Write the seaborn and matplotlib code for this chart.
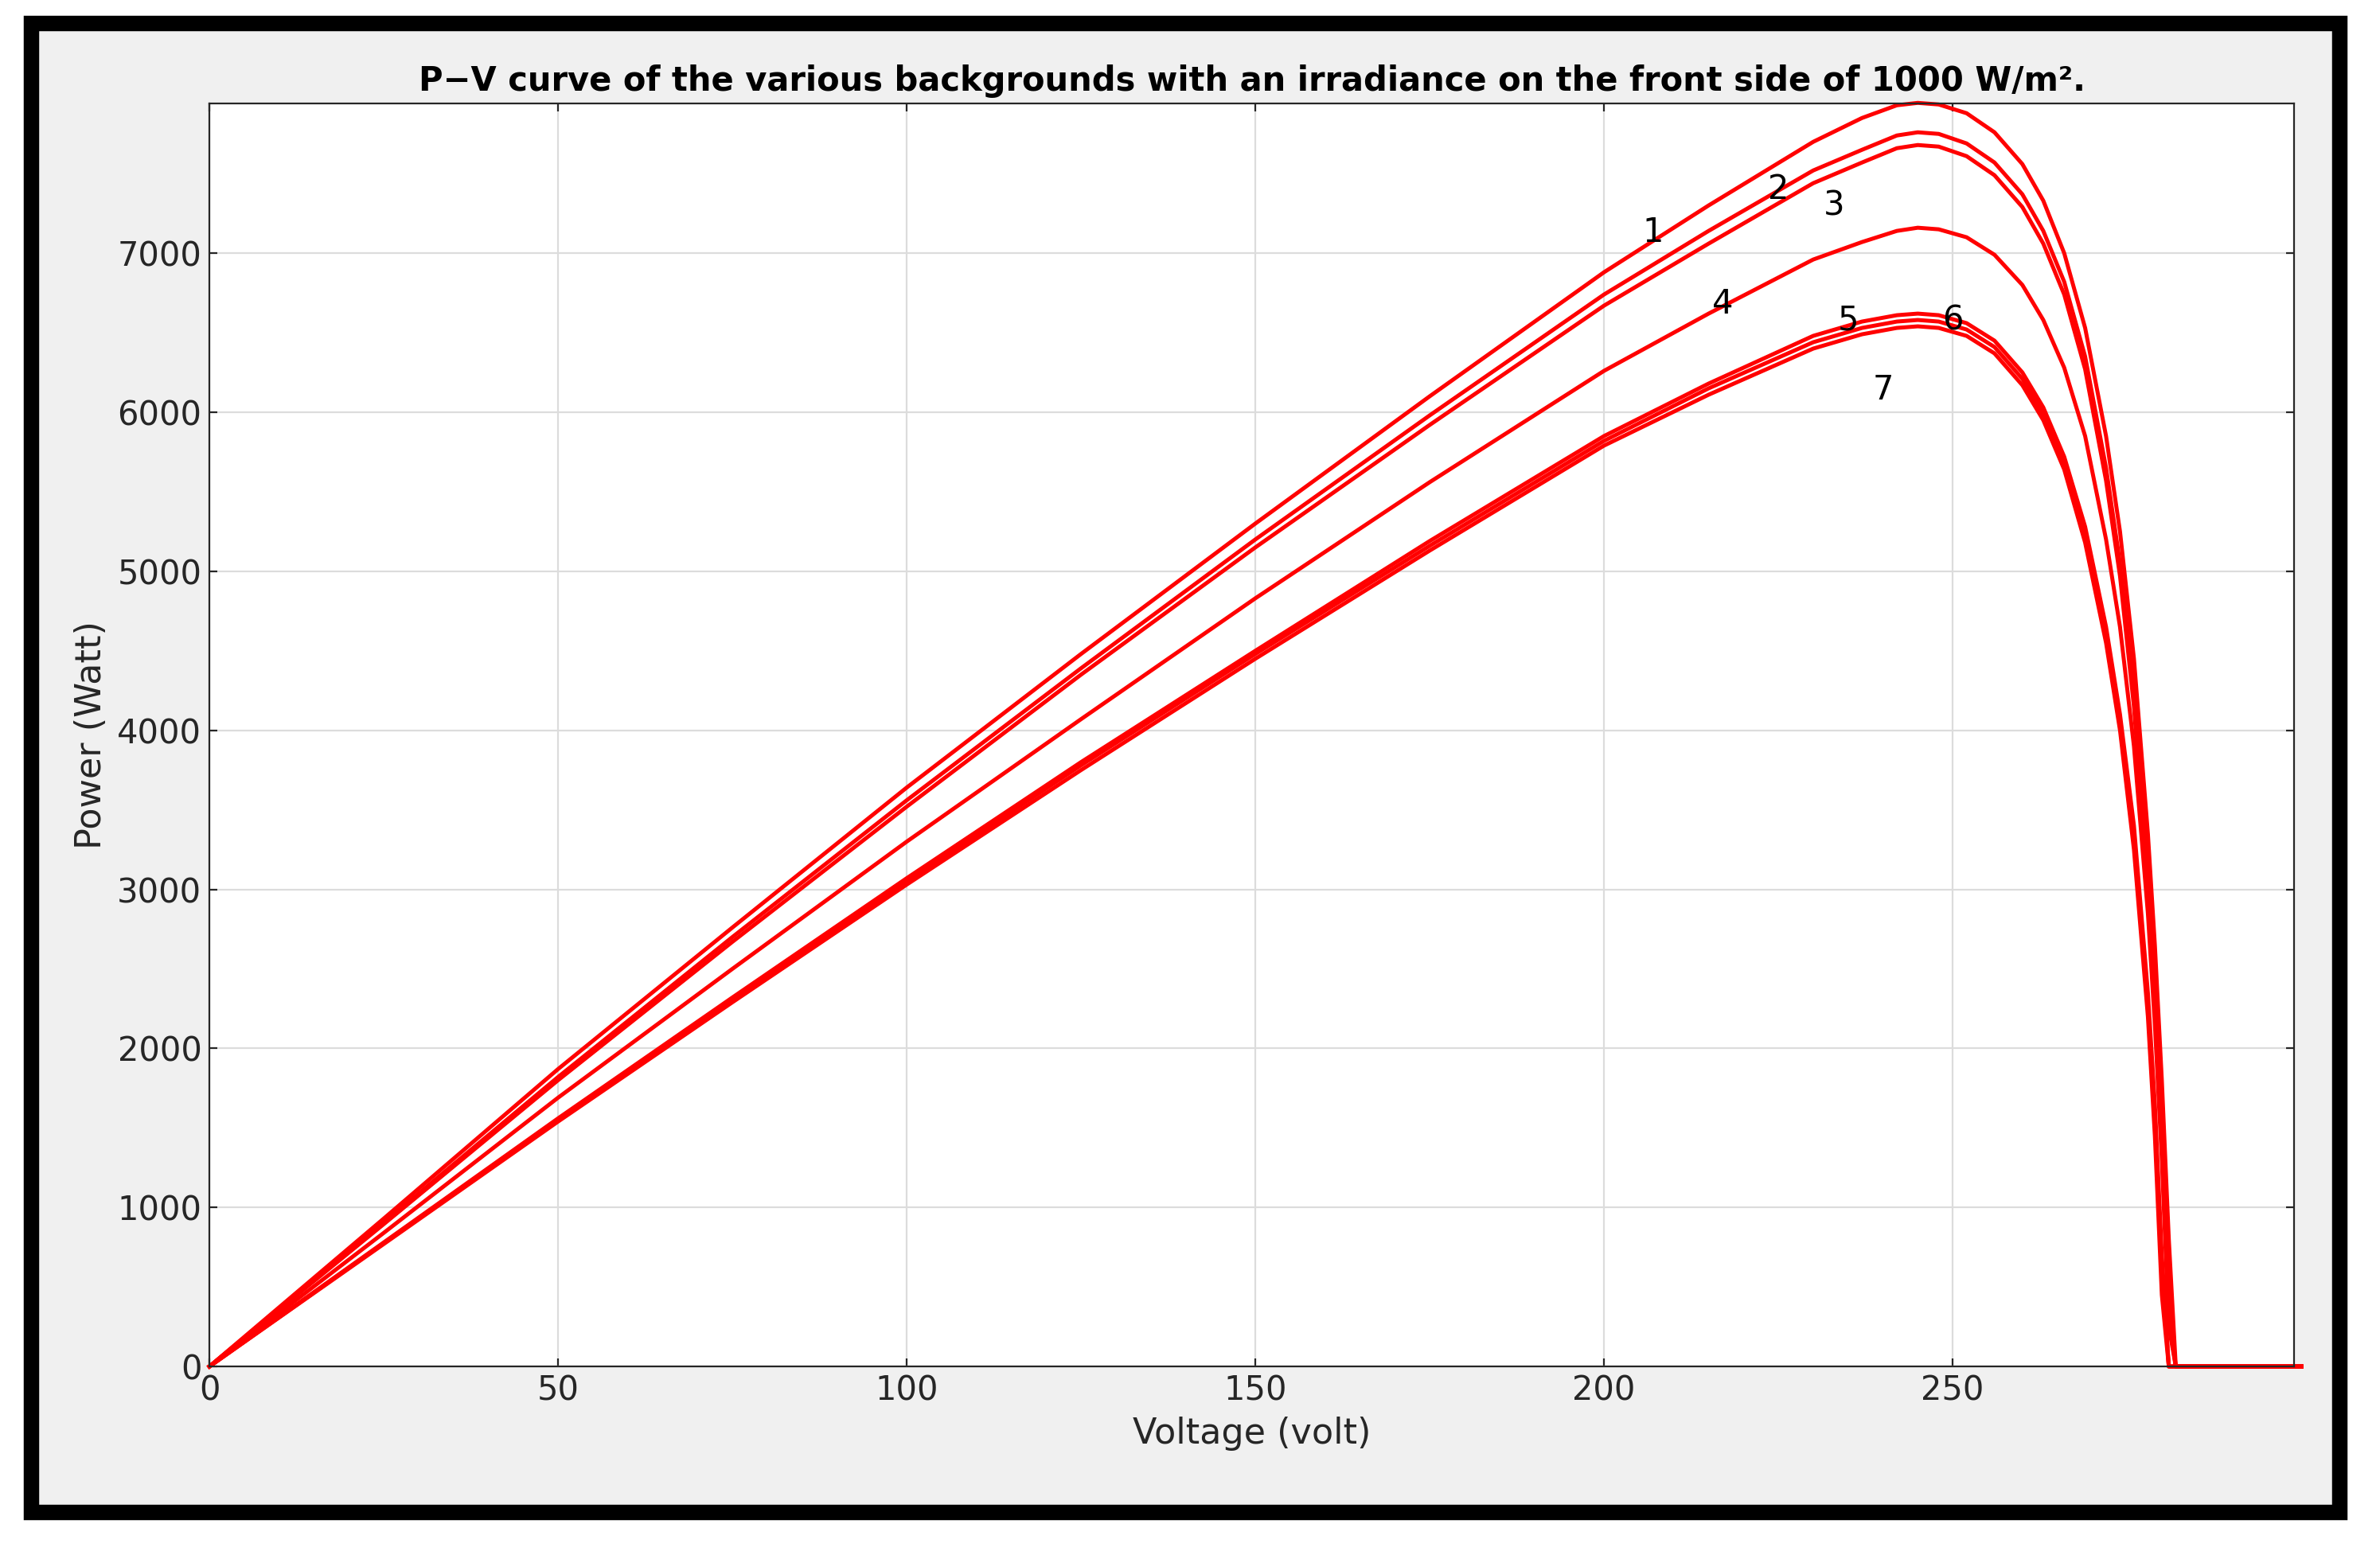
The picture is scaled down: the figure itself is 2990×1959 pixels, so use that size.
import matplotlib.pyplot as plt
import matplotlib.patches as patches
import seaborn as sns
import pandas as pd

# voltage sample points (volt) and power (W)
volts = [0, 25, 50, 75, 100, 125, 150, 175, 200, 215, 230, 237, 242, 245, 248, 252, 256, 260, 263, 266,
         269, 272, 274, 276, 278, 279, 280, 281, 282, 300]
p1 = [0, 930, 1870, 2760, 3640, 4480, 5300, 6100, 6880, 7300, 7700, 7850, 7930, 7945, 7935, 7880, 7760, 7560, 7330, 7000,
      6530, 5850, 5250, 4450, 3350, 2650, 1800, 800, 0, 0]
p2 = [0, 905, 1820, 2700, 3560, 4390, 5200, 5980, 6740, 7140, 7520, 7650, 7740, 7760, 7750, 7690, 7570, 7370, 7140, 6820,
      6350, 5650, 5050, 4250, 3100, 2400, 1500, 400, 0, 0]
p3 = [0, 895, 1800, 2670, 3520, 4350, 5150, 5920, 6670, 7060, 7440, 7570, 7660, 7680, 7670, 7610, 7490, 7290, 7060, 6740,
      6270, 5570, 4970, 4150, 3000, 2300, 1400, 300, 0, 0]
p4 = [0, 840, 1690, 2500, 3300, 4070, 4830, 5560, 6260, 6620, 6960, 7070, 7140, 7160, 7150, 7100, 6990, 6800, 6580, 6280,
      5850, 5200, 4650, 3900, 2850, 2150, 1300, 250, 0, 0]
p5 = [0, 780, 1560, 2320, 3070, 3800, 4500, 5190, 5850, 6180, 6480, 6570, 6610, 6620, 6610, 6560, 6450, 6250, 6030, 5720,
      5280, 4650, 4100, 3400, 2350, 1650, 700, 0, 0, 0]
p6 = [0, 775, 1550, 2305, 3050, 3780, 4480, 5160, 5820, 6150, 6440, 6530, 6570, 6580, 6570, 6520, 6410, 6210, 5990, 5680,
      5230, 4600, 4050, 3330, 2280, 1550, 600, 0, 0, 0]
p7 = [0, 770, 1540, 2290, 3030, 3750, 4450, 5130, 5790, 6110, 6400, 6490, 6530, 6540, 6530, 6480, 6370, 6170, 5950, 5640,
      5180, 4550, 4000, 3250, 2200, 1450, 450, 0, 0, 0]
curves = [p1, p2, p3, p4, p5, p6, p7]

labels = ['1', '2', '3', '4', '5', '6', '7']
label_x = [207, 225, 233, 217, 235, 250, 240]
label_y = [7130, 7400, 7300, 6680, 6580, 6580, 6140]

fig = plt.figure(figsize=(14.95, 9.795), dpi=200)
fig.patch.set_facecolor('white')
fig.add_artist(patches.Rectangle((0.013, 0.03), 0.97, 0.955, transform=fig.transFigure,
                                 facecolor='#f0f0f0', edgecolor='black', linewidth=7, zorder=-1))
ax = fig.add_axes([0.088, 0.1235, 0.876, 0.81])
ax.set_facecolor('white')

for p in curves:
    df = pd.DataFrame({'V': volts, 'P': p})
    sns.lineplot(data=df, x='V', y='P', color='red', linewidth=1.8, ax=ax, clip_on=False, estimator=None, sort=False)

for t, x, y in zip(labels, label_x, label_y):
    ax.text(x, y, t, fontsize=15, ha='center', va='center')

ax.set_xlim(0, 299)
ax.set_ylim(0, 7940)
ax.set_xticks([0, 50, 100, 150, 200, 250])
ax.set_yticks(range(0, 8000, 1000))
ax.grid(True, color='#dcdcdc', linewidth=0.8)
ax.tick_params(direction='in', top=True, right=True, labelsize=15, colors='#262626')
for s in ax.spines.values():
    s.set_color('#262626')
    s.set_linewidth(0.8)
ax.set_xlabel('Voltage (volt)', fontsize=16, color='#262626')
ax.set_ylabel('Power (Watt)', fontsize=16, color='#262626')
ax.set_title('P\u2212V curve of the various backgrounds with an irradiance on the front side of 1000 W/m\u00b2.',
             fontsize=15, fontweight='bold', pad=6)

fig.savefig('out.png', dpi=200)
